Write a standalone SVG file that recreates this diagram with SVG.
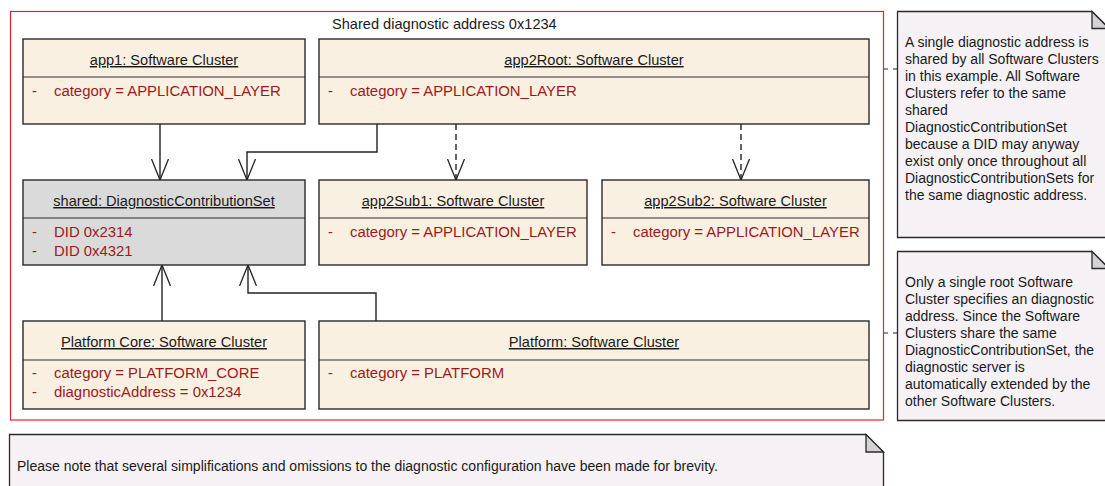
<svg xmlns="http://www.w3.org/2000/svg" width="1105" height="486" viewBox="0 0 1105 486">
  <style>
    .box { fill: #FAF0E2; stroke: #2a2a2a; stroke-width: 1.4; }
    .grey { fill: #DADADA; }
    .div { stroke: #2a2a2a; stroke-width: 1.2; }
    .title { font-family: "Liberation Sans", Arial, sans-serif; font-size: 14.6px; fill: #1a1a1a; text-anchor: middle; text-decoration: underline; }
    .attr { font-family: "Liberation Sans", Arial, sans-serif; font-size: 14.9px; fill: #9E1A1A; }
    .note { fill: #F5F1F5; stroke: #2a2a2a; stroke-width: 1.3; }
    .fold { fill: #D4D2D4; stroke: #2a2a2a; stroke-width: 1.3; }
    .ntext { font-family: "Liberation Sans", Arial, sans-serif; font-size: 14px; fill: #1a1a1a; }
    .conn { fill: none; stroke: #222; stroke-width: 1.4; }
    .dash { stroke-dasharray: 6 4; }
    .ndash { fill: none; stroke: #222; stroke-width: 1.2; stroke-dasharray: 4 5; }
  </style>
  <defs>
    <marker id="open" viewBox="0 0 22 18" refX="21" refY="9" markerWidth="22" markerHeight="18" markerUnits="userSpaceOnUse" orient="auto">
      <path d="M0,0.5 L21,9 L0,17.5" fill="none" stroke="#222" stroke-width="1.3"/>
    </marker>
  </defs>

  <rect x="0" y="0" width="1105" height="486" fill="#ffffff"/>

  <g id="frame">
    <rect x="10.5" y="11.5" width="873" height="408.5" fill="none" stroke="#E8202A" stroke-width="1.2"/>
    <text x="332" y="29" font-family="Liberation Sans, Arial, sans-serif" font-size="14.6px" fill="#1a1a1a">Shared diagnostic address 0x1234</text>
  </g>

  <g id="connectors">
    <path class="conn" d="M160,124 V180" marker-end="url(#open)"/>
    <path class="conn" d="M377,124 V152 H247 V180" marker-end="url(#open)"/>
    <path class="conn dash" d="M456,124 V180" marker-end="url(#open)"/>
    <path class="conn dash" d="M741,124 V180" marker-end="url(#open)"/>
    <path class="conn" d="M162,321 V265" marker-end="url(#open)"/>
    <path class="conn" d="M376,321 V293 H248 V265" marker-end="url(#open)"/>
    <path class="ndash" d="M884,69 H897"/>
    <path class="ndash" d="M884,333 H897"/>
  </g>

  <g id="app1">
    <rect class="box" x="23" y="39" width="282" height="85"/>
    <line class="div" x1="23" y1="77" x2="305" y2="77"/>
    <text class="title" x="164" y="65">app1: Software Cluster</text>
    <text class="attr" x="32" y="96">-</text>
    <text class="attr" x="54" y="96">category = APPLICATION_LAYER</text>
  </g>

  <g id="app2Root">
    <rect class="box" x="319" y="39" width="550" height="85"/>
    <line class="div" x1="319" y1="77" x2="869" y2="77"/>
    <text class="title" x="594" y="65">app2Root: Software Cluster</text>
    <text class="attr" x="328" y="96">-</text>
    <text class="attr" x="350" y="96">category = APPLICATION_LAYER</text>
  </g>

  <g id="shared">
    <rect class="box grey" x="23" y="180" width="282" height="85"/>
    <line class="div" x1="23" y1="218" x2="305" y2="218"/>
    <text class="title" x="164" y="206">shared: DiagnosticContributionSet</text>
    <text class="attr" x="32" y="237">-</text>
    <text class="attr" x="54" y="237">DID 0x2314</text>
    <text class="attr" x="32" y="256">-</text>
    <text class="attr" x="54" y="256">DID 0x4321</text>
  </g>

  <g id="app2Sub1">
    <rect class="box" x="319" y="180" width="268" height="85"/>
    <line class="div" x1="319" y1="218" x2="587" y2="218"/>
    <text class="title" x="453" y="206">app2Sub1: Software Cluster</text>
    <text class="attr" x="328" y="237">-</text>
    <text class="attr" x="350" y="237">category = APPLICATION_LAYER</text>
  </g>

  <g id="app2Sub2">
    <rect class="box" x="602" y="180" width="267" height="85"/>
    <line class="div" x1="602" y1="218" x2="869" y2="218"/>
    <text class="title" x="735.5" y="206">app2Sub2: Software Cluster</text>
    <text class="attr" x="611" y="237">-</text>
    <text class="attr" x="633" y="237">category = APPLICATION_LAYER</text>
  </g>

  <g id="platformCore">
    <rect class="box" x="23" y="321" width="282" height="88"/>
    <line class="div" x1="23" y1="360" x2="305" y2="360"/>
    <text class="title" x="164" y="347">Platform Core: Software Cluster</text>
    <text class="attr" x="32" y="378">-</text>
    <text class="attr" x="54" y="378">category = PLATFORM_CORE</text>
    <text class="attr" x="32" y="397">-</text>
    <text class="attr" x="54" y="397">diagnosticAddress = 0x1234</text>
  </g>

  <g id="platform">
    <rect class="box" x="319" y="321" width="550" height="88"/>
    <line class="div" x1="319" y1="360" x2="869" y2="360"/>
    <text class="title" x="594" y="347">Platform: Software Cluster</text>
    <text class="attr" x="328" y="378">-</text>
    <text class="attr" x="350" y="378">category = PLATFORM</text>
  </g>

  <g id="note1">
    <path class="note" d="M897.5,11.5 H1092 L1109,28.5 V237.5 H897.5 Z"/>
    <path class="fold" d="M1092,11.5 V28.5 H1109 Z"/>
    <text class="ntext" x="905" y="46.5">A single diagnostic address is</text>
    <text class="ntext" x="905" y="63.5">shared by all Software Clusters</text>
    <text class="ntext" x="905" y="80.5">in this example. All Software</text>
    <text class="ntext" x="905" y="97.5">Clusters refer to the same</text>
    <text class="ntext" x="905" y="114.5">shared</text>
    <text class="ntext" x="905" y="131.5">DiagnosticContributionSet</text>
    <text class="ntext" x="905" y="148.5">because a DID may anyway</text>
    <text class="ntext" x="905" y="165.5">exist only once throughout all</text>
    <text class="ntext" x="905" y="182.5">DiagnosticContributionSets for</text>
    <text class="ntext" x="905" y="199.5">the same diagnostic address.</text>
  </g>

  <g id="note2">
    <path class="note" d="M897.5,251.5 H1092 L1109,268.5 V420.5 H897.5 Z"/>
    <path class="fold" d="M1092,251.5 V268.5 H1109 Z"/>
    <text class="ntext" x="905" y="286.5">Only a single root Software</text>
    <text class="ntext" x="905" y="303.5">Cluster specifies an diagnostic</text>
    <text class="ntext" x="905" y="320.5">address. Since the Software</text>
    <text class="ntext" x="905" y="337.5">Clusters share the same</text>
    <text class="ntext" x="905" y="354.5">DiagnosticContributionSet, the</text>
    <text class="ntext" x="905" y="371.5">diagnostic server is</text>
    <text class="ntext" x="905" y="388.5">automatically extended by the</text>
    <text class="ntext" x="905" y="405.5">other Software Clusters.</text>
  </g>

  <g id="note3">
    <path class="note" d="M9.5,434.5 H866 L883.5,452 V492 H9.5 Z"/>
    <path class="fold" d="M866,434.5 V452 H883.5 Z"/>
    <text class="ntext" x="17" y="470.5">Please note that several simplifications and omissions to the diagnostic configuration have been made for brevity.</text>
  </g>
</svg>
